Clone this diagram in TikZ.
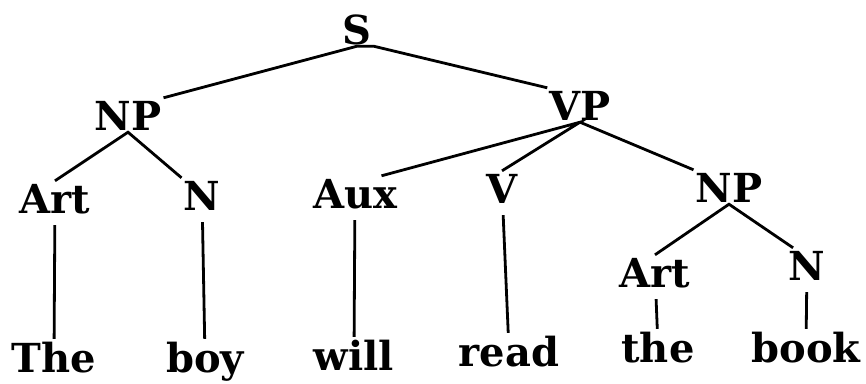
\documentclass[tikz,border=0pt]{standalone}
\usepackage{fontspec}
\setmainfont{DejaVu Serif}
\tikzset{
    lbl/.style={anchor=base,inner sep=2pt,text height=30pt,text depth=0pt,font=\fontsize{40}{48}\selectfont\bfseries},
    branch/.style={line width=2.8pt},
    leaf/.style={branch,shorten <=10pt,shorten >=1pt}
}
\begin{document}
\begin{tikzpicture}[x=1pt,y=-1pt]
        \useasboundingbox (0,0) rectangle (866,383);
        \node[lbl] (s) at (357,44) {S};
        \node[lbl] (np) at (128,130) {NP};
        \node[lbl] (vp) at (580,120) {VP};
        \node[lbl] (art) at (55,213) {Art};
        \node[lbl] (n) at (202,210) {N};
        \node[lbl] (aux) at (355,208) {Aux};
        \node[lbl] (v) at (502,203) {V};
        \node[lbl] (npo) at (729,202) {NP};
        \node[lbl] (arto) at (655,287) {Art};
        \node[lbl] (no) at (807,280) {N};
        \node[lbl] (the) at (54,372) {The};
        \node[lbl] (boy) at (205,372) {boy};
        \node[lbl] (will) at (354,370) {will};
        \node[lbl] (read) at (509,366) {read};
        \node[lbl] (theo) at (658,362) {the};
        \node[lbl] (book) at (806,362) {book};
        \draw[branch](np.north east)--(s.south)--(s.south east)--(vp.north west);
        \draw[branch](art.north)--(np.south)--(n.north west);
        \draw[branch](aux.33)--(vp.south)--(v.north);
        \draw[branch](vp.south)--(npo.north west);
        \draw[branch](arto.north)--(npo.south)--(no.129);
        \draw[leaf](art)--(the);
        \draw[leaf](n)--(boy);
        \draw[leaf](aux)--(will);
        \draw[leaf](v)--(read);
        \draw[leaf](arto)--(theo);
        \draw[leaf](no)--(book);
    \end{tikzpicture}
\end{document}
